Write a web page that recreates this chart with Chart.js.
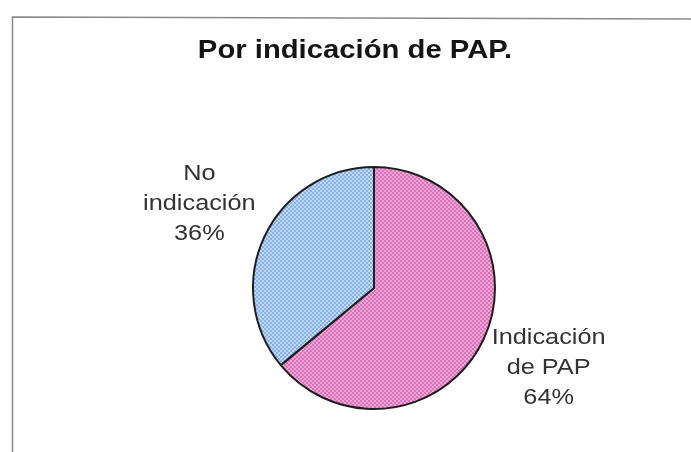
<!DOCTYPE html>
<html>
<head>
<meta charset="utf-8">
<script src="https://cdn.jsdelivr.net/npm/chart.js@4/dist/chart.umd.min.js"></script>
<style>
  html, body { margin: 0; padding: 0; background: #ffffff; }
  #wrap { width: 691px; height: 452px; }
</style>
</head>
<body>
<div id="wrap"><canvas id="pie" width="691" height="452"></canvas></div>
<script>
// chart data
const titleText = 'Por indicación de PAP.';
const categories = ['Indicación de PAP', 'No indicación'];
const values = [64, 36];
const labelLines = [['Indicación', 'de PAP'], ['No', 'indicación']];

// small dither tiles to mimic the scanned fill texture
function makePattern(dark, light) {
  const c = document.createElement('canvas');
  c.width = 4; c.height = 4;
  const g = c.getContext('2d');
  g.fillStyle = light;
  g.fillRect(0, 0, 4, 4);
  g.fillStyle = dark;
  g.fillRect(0, 0, 2, 2);
  g.fillRect(2, 2, 2, 2);
  return g.createPattern(c, 'repeat');
}

const pinkFill = makePattern('#da72ba', '#efa6d6');
const blueFill = makePattern('#86b0e8', '#bfd8f5');

// the scan is a bit wider than tall, so the text is stretched sideways
function wideText(ctx, text, x, y, sx) {
  ctx.save();
  ctx.translate(x, y);
  ctx.scale(sx, 1);
  ctx.fillText(text, 0, 0);
  ctx.restore();
}

// frame, title and outside slice labels
const decorations = {
  id: 'decorations',
  afterDraw(chart) {
    const ctx = chart.ctx;
    ctx.save();
    ctx.strokeStyle = '#8a8a8a';
    ctx.lineWidth = 1.5;
    ctx.beginPath();
    ctx.moveTo(12.5, 452);
    ctx.lineTo(12.5, 17);
    ctx.lineTo(691, 19);
    ctx.stroke();

    ctx.fillStyle = '#151515';
    ctx.textAlign = 'center';
    ctx.textBaseline = 'alphabetic';
    ctx.font = 'bold 25px "Liberation Sans", Arial, sans-serif';
    wideText(ctx, titleText, 355, 58, 1.17);

    ctx.font = '22px "Liberation Sans", Arial, sans-serif';
    ctx.fillStyle = '#333333';
    ctx.textBaseline = 'middle';
    const meta = chart.getDatasetMeta(0);
    const total = values.reduce((a, b) => a + b, 0);
    meta.data.forEach((arc, i) => {
      const mid = (arc.startAngle + arc.endAngle) / 2;
      const dist = arc.outerRadius + 72;
      const cx = arc.x + Math.cos(mid) * dist;
      const cy = arc.y + Math.sin(mid) * dist - 2;
      const lines = labelLines[i].concat([Math.round(values[i] / total * 100) + '%']);
      const lh = 30;
      lines.forEach((t, k) => {
        wideText(ctx, t, cx, cy + (k - (lines.length - 1) / 2) * lh, 1.15);
      });
    });
    ctx.restore();
  }
};

new Chart(document.getElementById('pie'), {
  type: 'pie',
  data: {
    labels: categories,
    datasets: [{
      data: values,
      backgroundColor: [pinkFill, blueFill],
      borderColor: '#1f1f1f',
      borderWidth: 2,
      radius: 121
    }]
  },
  options: {
    responsive: false,
    animation: false,
    layout: {
      padding: { left: 70, right: 13, top: 140, bottom: 16 }
    },
    plugins: {
      legend: { display: false },
      title: { display: false },
      tooltip: { enabled: false }
    }
  },
  plugins: [decorations]
});
</script>
</body>
</html>
